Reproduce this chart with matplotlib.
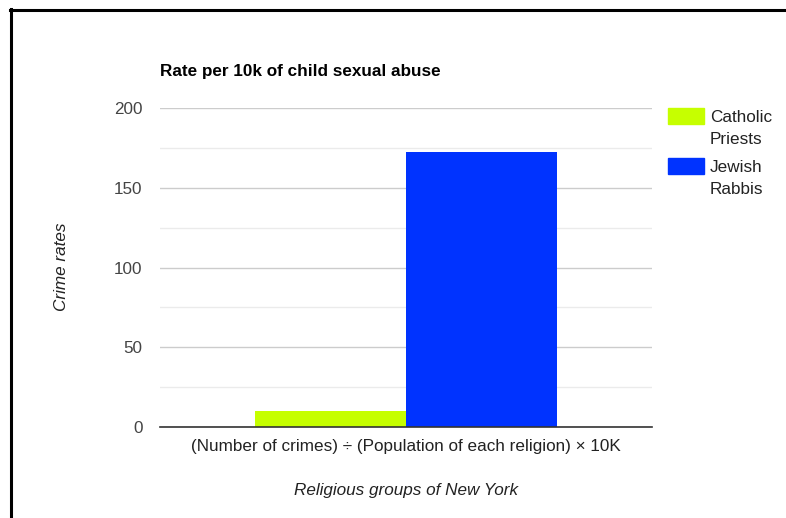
import matplotlib
matplotlib.use("Agg")
import matplotlib.pyplot as plt
from matplotlib.patches import Rectangle
from matplotlib.lines import Line2D
from matplotlib.ticker import MultipleLocator

# data
groups = ["(Number of crimes) \u00f7 (Population of each religion) \u00d7 10K"]
series = ["Catholic\nPriests", "Jewish\nRabbis"]
values = [9.8, 172.5]
colors = ["#c6ff00", "#0033ff"]

W, H = 786, 518
FS = 12.3
plt.rcParams['font.family'] = ['Liberation Sans', 'DejaVu Sans']

fig = plt.figure(figsize=(W / 100, H / 100), dpi=100)

def fx(px):
    return px / W

def fy(py):
    return 1 - py / H

# plot area
ax = fig.add_axes([fx(160), fy(427), fx(652) - fx(160), fy(108) - fy(427)])

bar_w = 0.3075
offsets = [-bar_w / 2, bar_w / 2]
for v, c, off in zip(values, colors, offsets):
    ax.bar(off, v, width=bar_w, color=c, zorder=3)

ax.set_xlim(-0.5, 0.5)
ax.set_ylim(0, 200)
ax.yaxis.set_major_locator(MultipleLocator(50))
ax.yaxis.set_minor_locator(MultipleLocator(25))
ax.grid(axis='y', which='major', color='#cccccc', linewidth=1, zorder=0)
ax.grid(axis='y', which='minor', color='#ebebeb', linewidth=1, zorder=0)
ax.tick_params(axis='y', which='both', length=0, labelsize=FS, labelcolor='#444444', pad=12.5)
ax.set_xticks([0])
ax.set_xticklabels(groups, fontsize=FS, color='#222222')
ax.tick_params(axis='x', length=0, pad=9)
for s in ['top', 'right', 'left']:
    ax.spines[s].set_visible(False)
ax.spines['bottom'].set_color('#333333')
ax.spines['bottom'].set_linewidth(1.2)
ax.spines['bottom'].set_zorder(4)

# titles
fig.text(fx(160), fy(72), "Rate per 10k of child sexual abuse", fontsize=FS,
         fontweight='bold', color='#000000', va='center', ha='left')
fig.text(fx(62), fy(267), "Crime rates", fontsize=FS, style='italic',
         color='#222222', rotation=90, va='center', ha='center')
fig.text(fx(406), fy(490), "Religious groups of New York", fontsize=FS,
         style='italic', color='#222222', va='center', ha='center')

# legend
leg_tops = [108, 158]
for lab, c, top in zip(series, colors, leg_tops):
    fig.add_artist(Rectangle((fx(668), fy(top + 16)), fx(36), fy(top) - fy(top + 16),
                             transform=fig.transFigure, color=c))
    fig.text(fx(710), fy(top + 2), lab, fontsize=FS, color='#222222',
             va='top', ha='left', linespacing=1.58)

# frame lines of the screenshot
fig.add_artist(Line2D([fx(10), 1], [fy(9.5), fy(9.5)], transform=fig.transFigure,
                      color='black', linewidth=2.2))
fig.add_artist(Line2D([fx(11), fx(11)], [fy(9), 0], transform=fig.transFigure,
                      color='black', linewidth=2.2))

fig.savefig("out.png", dpi=100)
